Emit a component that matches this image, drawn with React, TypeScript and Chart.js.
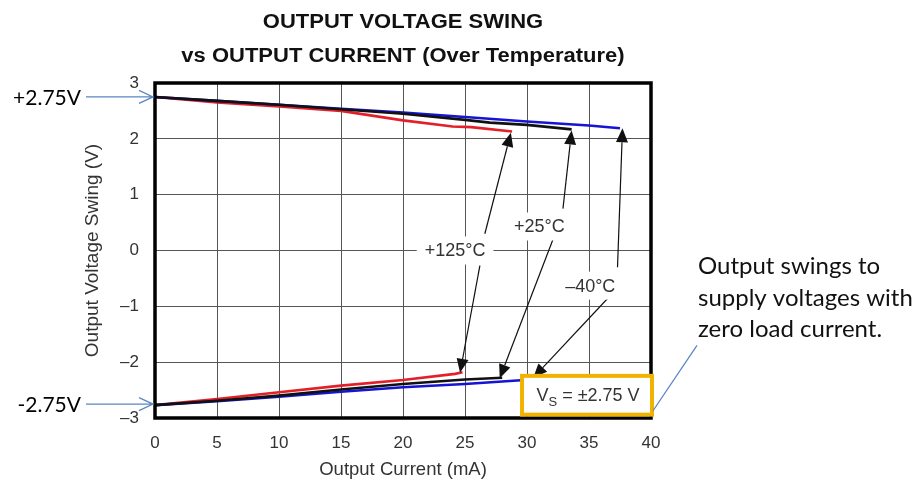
import { useEffect, useRef } from "react";
import { Chart, registerables } from "chart.js";

Chart.register(...registerables);

// ---- Data ----
const X_MIN = 0;
const X_MAX = 40;
const X_STEP = 5;
const Y_MIN = -3;
const Y_MAX = 3;
const Y_STEP = 1;

const hotHighI = [0, 5, 10, 15, 20, 24, 25.5, 28.8];
const hotHighV = [2.75, 2.65, 2.58, 2.5, 2.33, 2.22, 2.21, 2.13];
const roomHighI = [0, 5, 10, 15, 20, 25, 27, 30, 33.6];
const roomHighV = [2.75, 2.68, 2.61, 2.53, 2.45, 2.34, 2.29, 2.25, 2.17];
const coldHighI = [0, 5, 10, 15, 20, 25, 30, 35, 37.5];
const coldHighV = [2.75, 2.68, 2.61, 2.54, 2.47, 2.39, 2.31, 2.24, 2.19];

const hotLowI = [0, 5, 10, 15, 20, 24.2, 24.8];
const hotLowV = [-2.77, -2.66, -2.54, -2.42, -2.32, -2.21, -2.18];
const roomLowI = [0, 5, 10, 15, 20, 25, 28];
const roomLowV = [-2.77, -2.69, -2.6, -2.49, -2.39, -2.31, -2.28];
const coldLowI = [0, 5, 10, 15, 20, 25, 29.8];
const coldLowV = [-2.77, -2.7, -2.62, -2.53, -2.45, -2.39, -2.32];

const titleLines = ["OUTPUT VOLTAGE SWING", "vs OUTPUT CURRENT (Over Temperature)"];
const xTitle = "Output Current (mA)";
const yTitle = "Output Voltage Swing (V)";
const tempLabels = ["+125°C", "+25°C", "–40°C"];
const supplyLabels = ["+2.75V", "-2.75V"];
const supplyValues = [2.75, -2.75];
const noteLines = ["Output swings to", "supply voltages with", "zero load current."];

// annotation geometry in data units
const labelPos = [
  [24.2, 0],
  [31.0, 0.43],
  [35.1, -0.63],
];
const arrowsFor = [
  [
    [26.6, 0.3, 28.7, 2.11],
    [26.2, -0.27, 24.6, -2.19],
  ],
  [
    [32.9, 0.75, 33.6, 2.15],
    [32.1, 0.2, 27.8, -2.29],
  ],
  [
    [37.3, -0.3, 37.7, 2.19],
    [36.5, -0.86, 30.5, -2.28],
  ],
];

const RED = "#e3202a";
const BLUE = "#1414d2";
const BLACK = "#111111";
const NOTE_BLUE = "#5b87c5";
const ORANGE = "#f2b200";
const AXIS_FONT = "'Liberation Sans', Arial, sans-serif";

function pts(xs: number[], ys: number[]) {
  return xs.map((x, i) => ({ x, y: ys[i] }));
}

function filledArrow(ctx: CanvasRenderingContext2D, x1: number, y1: number, x2: number, y2: number) {
  const ang = Math.atan2(y2 - y1, x2 - x1);
  const len = 14;
  const hw = 6;
  const bx = x2 - len * Math.cos(ang);
  const by = y2 - len * Math.sin(ang);
  ctx.beginPath();
  ctx.moveTo(x1, y1);
  ctx.lineTo(bx, by);
  ctx.stroke();
  ctx.beginPath();
  ctx.moveTo(x2, y2);
  ctx.lineTo(bx + hw * Math.sin(ang), by - hw * Math.cos(ang));
  ctx.lineTo(bx - hw * Math.sin(ang), by + hw * Math.cos(ang));
  ctx.closePath();
  ctx.fill();
}

function openArrow(ctx: CanvasRenderingContext2D, x1: number, y1: number, x2: number, y2: number) {
  const ang = Math.atan2(y2 - y1, x2 - x1);
  const len = 14;
  const hw = 6.5;
  const bx = x2 - len * Math.cos(ang);
  const by = y2 - len * Math.sin(ang);
  ctx.beginPath();
  ctx.moveTo(x1, y1);
  ctx.lineTo(x2, y2);
  ctx.moveTo(bx + hw * Math.sin(ang), by - hw * Math.cos(ang));
  ctx.lineTo(x2, y2);
  ctx.lineTo(bx - hw * Math.sin(ang), by + hw * Math.cos(ang));
  ctx.stroke();
}

const overlayPlugin = {
  id: "overlay",
  afterDraw(chart: any) {
    const { ctx, chartArea: a, scales } = chart;
    const px = (v: number) => scales.x.getPixelForValue(v);
    const py = (v: number) => scales.y.getPixelForValue(v);
    ctx.save();

    // frame
    ctx.strokeStyle = "#000";
    ctx.lineWidth = 3.5;
    ctx.strokeRect(a.left, a.top, a.right - a.left, a.bottom - a.top);

    // temperature arrows
    ctx.strokeStyle = "#111";
    ctx.fillStyle = "#111";
    ctx.lineWidth = 1.2;
    arrowsFor.forEach((list) =>
      list.forEach(([x1, y1, x2, y2]) => filledArrow(ctx, px(x1), py(y1), px(x2), py(y2)))
    );

    // temperature labels
    ctx.font = `18px ${AXIS_FONT}`;
    ctx.textAlign = "center";
    ctx.textBaseline = "middle";
    tempLabels.forEach((t, i) => {
      const cx = px(labelPos[i][0]);
      const cy = py(labelPos[i][1]);
      const w = ctx.measureText(t).width;
      ctx.fillStyle = "#fff";
      ctx.fillRect(cx - w / 2 - 8, cy - 14, w + 16, 28);
      ctx.fillStyle = "#333";
      ctx.fillText(t, cx, cy + 1);
    });

    // Vs box
    const bx1 = px(29.6);
    const bx2 = a.right + 1;
    const by1 = py(-2.245);
    const by2 = py(-2.94);
    ctx.fillStyle = "#fff";
    ctx.fillRect(bx1, by1, bx2 - bx1, by2 - by1);
    ctx.strokeStyle = ORANGE;
    ctx.lineWidth = 4;
    ctx.strokeRect(bx1, by1, bx2 - bx1, by2 - by1);
    ctx.fillStyle = "#333";
    ctx.textAlign = "left";
    ctx.textBaseline = "alphabetic";
    const mainFont = `18px ${AXIS_FONT}`;
    const subFont = `13px ${AXIS_FONT}`;
    ctx.font = mainFont;
    const wV = ctx.measureText("V").width;
    const rest = " = ±2.75 V";
    const wR = ctx.measureText(rest).width;
    ctx.font = subFont;
    const wS = ctx.measureText("S").width;
    const total = wV + wS + wR;
    let tx = (bx1 + bx2) / 2 - total / 2 + 1;
    const base = (by1 + by2) / 2 + 6;
    ctx.font = mainFont;
    ctx.fillText("V", tx, base);
    tx += wV;
    ctx.font = subFont;
    ctx.fillText("S", tx, base + 5);
    tx += wS;
    ctx.font = mainFont;
    ctx.fillText(rest, tx, base);

    // supply arrows on the left
    ctx.strokeStyle = NOTE_BLUE;
    ctx.lineWidth = 1.3;
    ctx.font = "21px Lato, 'Noto Sans', sans-serif";
    ctx.fillStyle = "#000";
    ctx.textAlign = "right";
    ctx.textBaseline = "middle";
    supplyValues.forEach((v, i) => {
      const yy = py(v);
      openArrow(ctx, 86, yy, a.left - 2, yy);
      ctx.fillText(supplyLabels[i], 81, yy + 1);
    });

    // note text on the right
    ctx.beginPath();
    ctx.moveTo(a.right + 2, py(-2.87));
    ctx.lineTo(697, py(-1.7));
    ctx.stroke();
    ctx.font = "24px Lato, 'Noto Sans', sans-serif";
    ctx.textAlign = "left";
    ctx.textBaseline = "alphabetic";
    ctx.fillStyle = "#111";
    noteLines.forEach((t, i) => ctx.fillText(t, 698, 274 + i * 31.5));

    // title (slightly widened, as in the reference)
    ctx.fillStyle = "#111";
    ctx.textAlign = "center";
    ctx.font = `bold 20px ${AXIS_FONT}`;
    const tcx = (a.left + a.right) / 2;
    titleLines.forEach((t, i) => {
      ctx.save();
      ctx.translate(tcx, 28 + i * 34);
      ctx.scale(1.1, 1);
      ctx.fillText(t, 0, 0);
      ctx.restore();
    });

    ctx.restore();
  },
};

export default function App() {
  const ref = useRef<HTMLCanvasElement | null>(null);
  useEffect(() => {
    if (!ref.current) return;
    const line = (data: any, color: string) => ({
      data,
      borderColor: color,
      backgroundColor: color,
      borderWidth: 2.6,
      pointRadius: 0,
      showLine: true,
      tension: 0,
    });
    const chart = new Chart(ref.current, {
      type: "scatter",
      data: {
        datasets: [
          line(pts(roomHighI, roomHighV), BLACK),
          line(pts(coldHighI, coldHighV), BLUE),
          line(pts(hotHighI, hotHighV), RED),
          line(pts(roomLowI, roomLowV), BLACK),
          line(pts(coldLowI, coldLowV), BLUE),
          line(pts(hotLowI, hotLowV), RED),
        ],
      },
      options: {
        animation: false,
        responsive: false,
        devicePixelRatio: 1,
        layout: { padding: { left: 0, right: 267, top: 83, bottom: 0 } },
        plugins: { legend: { display: false }, tooltip: { enabled: false }, title: { display: false } },
        scales: {
          x: {
            type: "linear",
            min: X_MIN,
            max: X_MAX,
            ticks: {
              stepSize: X_STEP,
              padding: 15,
              color: "#333",
              font: { family: AXIS_FONT, size: 17 },
            },
            grid: { color: "#555", lineWidth: 1, drawTicks: false },
            border: { display: false },
            title: {
              display: true,
              text: xTitle,
              color: "#333",
              padding: { top: 0, bottom: 0 },
              font: { family: AXIS_FONT, size: 18.5 },
            },
            afterFit: (s: any) => {
              s.height = 63;
            },
          },
          y: {
            type: "linear",
            min: Y_MIN,
            max: Y_MAX,
            ticks: {
              stepSize: Y_STEP,
              padding: 16,
              color: "#333",
              font: { family: AXIS_FONT, size: 17 },
              callback: (v: any) => String(v).replace("-", "–"),
            },
            grid: { color: "#555", lineWidth: 1, drawTicks: false },
            border: { display: false },
            title: {
              display: true,
              text: yTitle,
              color: "#333",
              padding: { top: 81, bottom: 0 },
              font: { family: AXIS_FONT, size: 19 },
            },
            afterFit: (s: any) => {
              s.width = 155;
            },
          },
        },
      },
      plugins: [overlayPlugin],
    } as any);
    return () => chart.destroy();
  }, []);
  return (
    <div style={{ position: "absolute", left: 0, top: 0, width: 918, height: 481, background: "#fff" }}>
      <canvas ref={ref} width={918} height={481} style={{ display: "block" }} />
    </div>
  );
}
